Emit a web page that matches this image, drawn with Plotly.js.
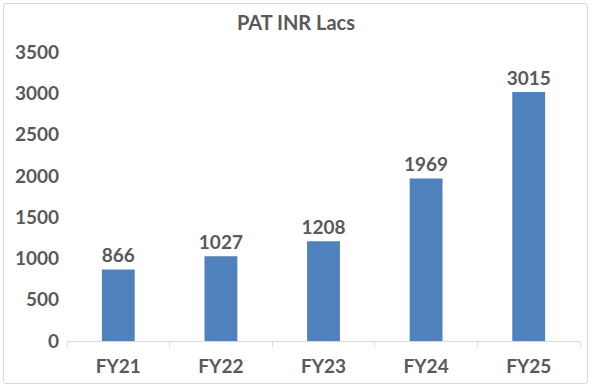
<!DOCTYPE html>
<html>
<head>
<meta charset="utf-8">
<script src="https://cdn.plot.ly/plotly-3.0.1.min.js"></script>
<style>
html,body{margin:0;padding:0;background:#fff;}
#wrap{position:relative;width:592px;height:389px;}
#chart{position:absolute;left:0;top:0;width:592px;height:389px;}
#frame{position:absolute;left:3px;top:3px;width:583px;height:379px;border:1px solid #d9d9d9;border-radius:3px;pointer-events:none;}
</style>
</head>
<body>
<div id="wrap"><div id="chart"></div><div id="frame"></div></div>
<script>
const categories = ["FY21", "FY22", "FY23", "FY24", "FY25"];
const patValues = [866, 1027, 1208, 1969, 3015];
const yTickValues = [0, 500, 1000, 1500, 2000, 2500, 3000, 3500];

const FONT = "Lato, 'Open Sans', sans-serif";
const GREY = "#595959";

Plotly.newPlot("chart", [{
  type: "bar",
  x: categories,
  y: patValues,
  text: patValues.map(String),
  textposition: "outside",
  constraintext: "none",
  cliponaxis: false,
  textfont: {family: FONT, size: 19, color: GREY, weight: "bold"},
  marker: {color: "#4f81bd"},
  hoverinfo: "none"
}], {
  width: 592, height: 389,
  margin: {l: 67, r: 12, t: 52, b: 48},
  paper_bgcolor: "#fff", plot_bgcolor: "#fff",
  bargap: 0.68,
  showlegend: false,
  title: {text: "<b>PAT INR Lacs</b>", x: 0.5, xanchor: "center", y: 1 - 23/389, yanchor: "middle",
          font: {family: FONT, size: 20, color: GREY}},
  xaxis: {
    type: "category",
    showline: true, linecolor: "#d9d9d9", linewidth: 1,
    ticks: "outside", tickson: "boundaries", ticklen: 5, tickcolor: "#d9d9d9",
    showgrid: false, zeroline: false,
    tickfont: {family: FONT, size: 19, color: GREY, weight: "bold"},
    ticklabelstandoff: 8
  },
  yaxis: {
    range: [0, 3500],
    tickvals: yTickValues,
    ticktext: yTickValues.map(String),
    showgrid: false, zeroline: false, showline: false, ticks: "",
    tickfont: {family: FONT, size: 19, color: GREY, weight: "bold"},
    ticklabelstandoff: 7
  }
}, {displayModeBar: false, staticPlot: true});
</script>
</body>
</html>
